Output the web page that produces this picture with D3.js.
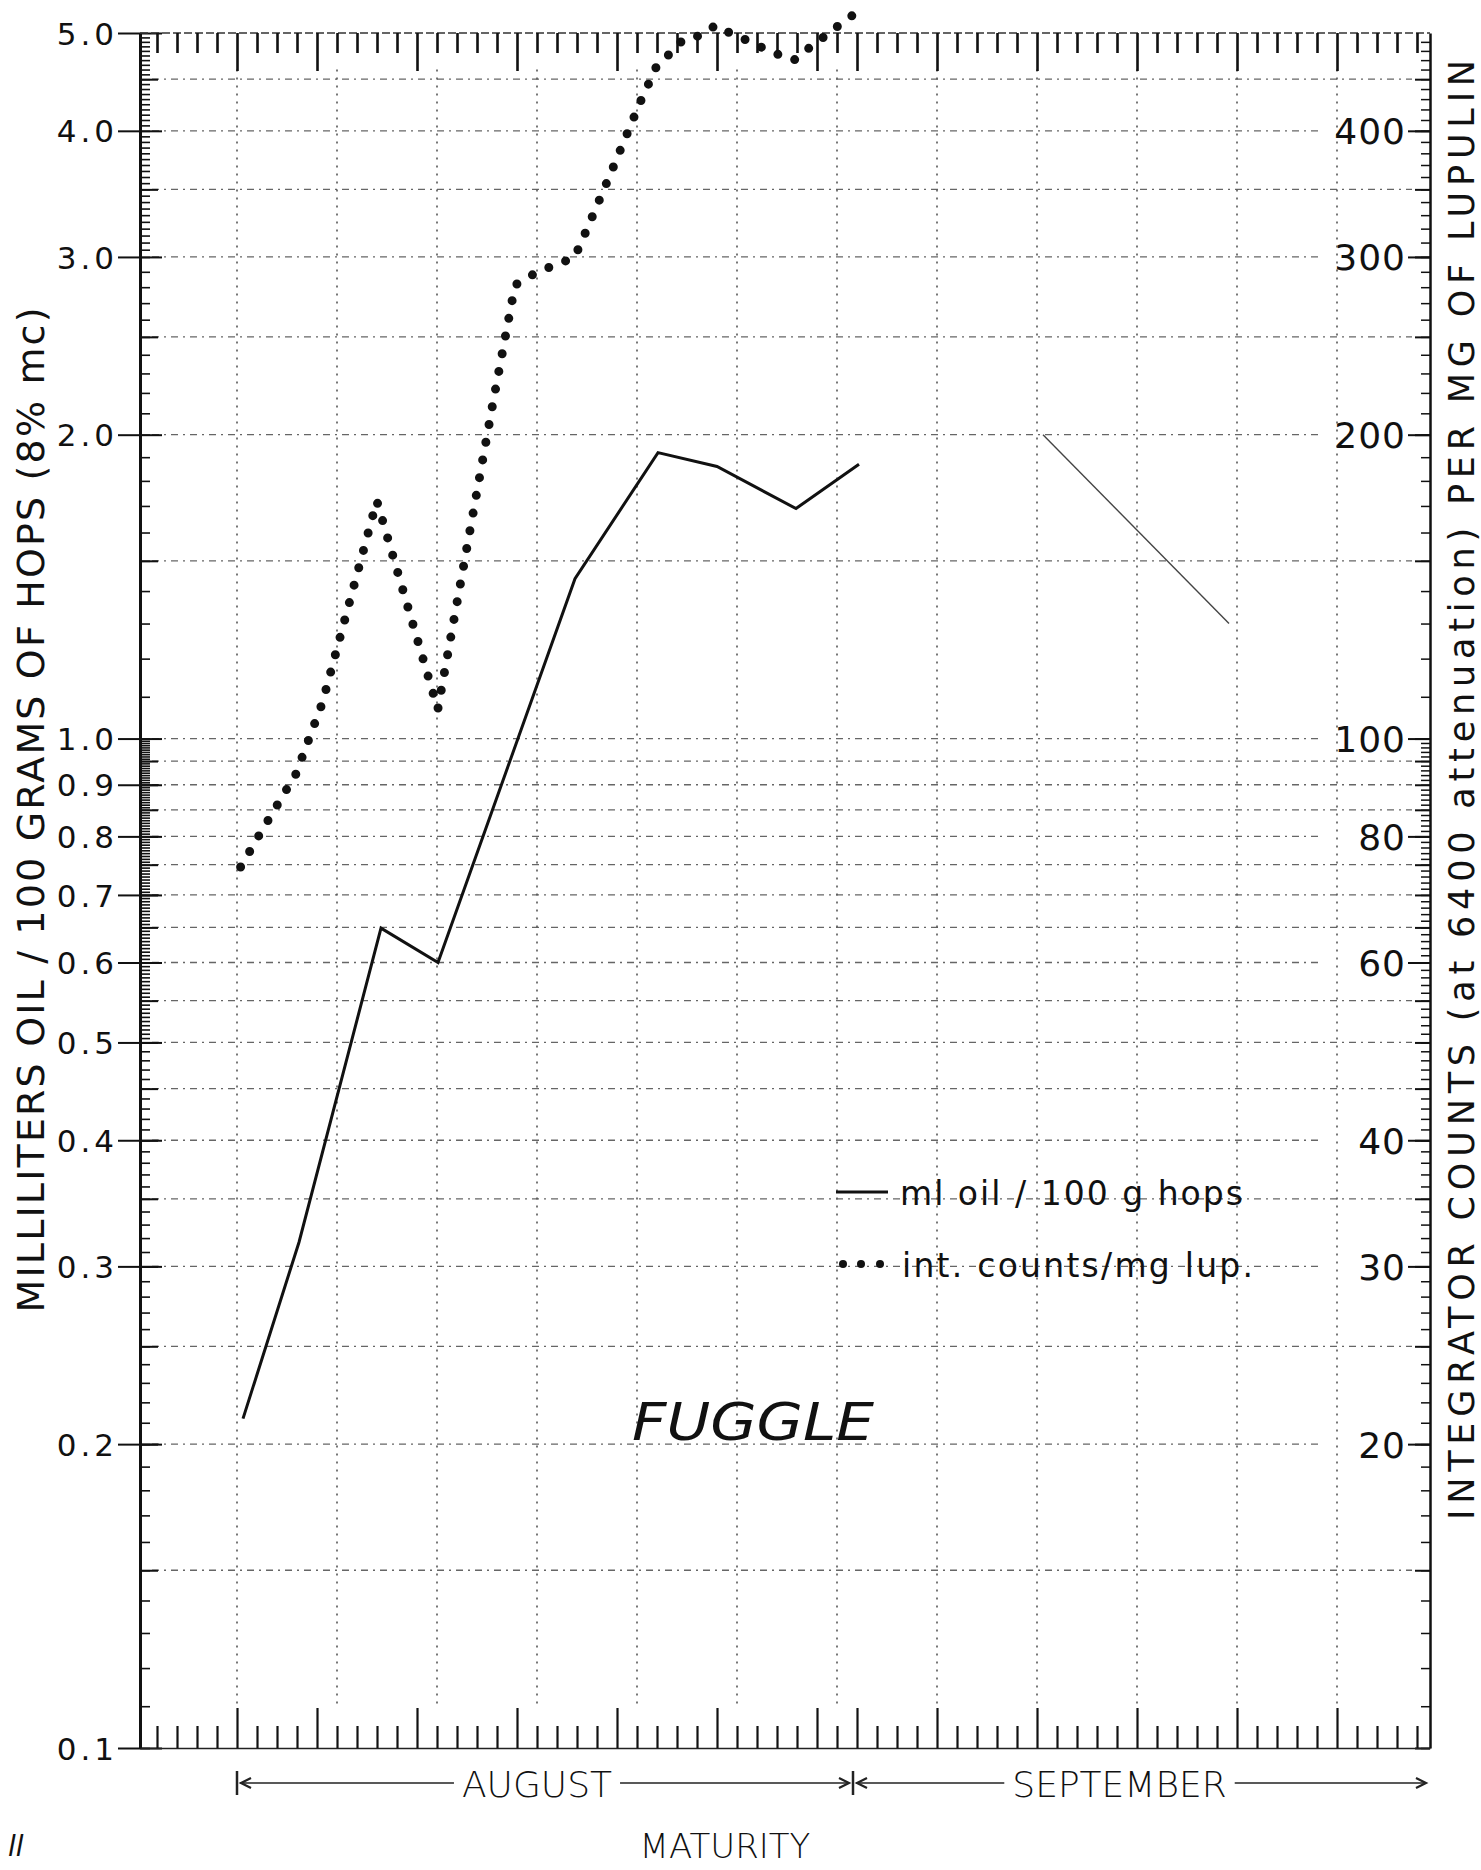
<!DOCTYPE html>
<html>
<head>
<meta charset="utf-8">
<script src="https://cdn.jsdelivr.net/npm/d3@7/dist/d3.min.js"></script>
<style>
body { margin: 0; background: #fff; }
text { font-family: "DejaVu Sans", Lato, sans-serif; fill: #111; }
</style>
</head>
<body>
<script>
// ---- data (day number: Aug 1 = 1, Sep 1 = 32) ----
// ml oil / 100 g hops (left axis)
var oilDays   = [1.3, 4.1, 8.2, 11.05, 17.9, 22.05, 25.0, 28.95, 32.1];
var oilValues = [0.212, 0.317, 0.649, 0.60, 1.44, 1.92, 1.86, 1.69, 1.87];
// faint stroke drawn in September
var faintDays   = [41.3, 50.6];
var faintValues = [2.0, 1.30];
// integrator counts / mg lupulin (right axis)
var countDays   = [1.18, 2.07, 3.94, 5.27, 7.99, 11.04, 13.79, 14.9, 15.57, 16.32, 17.87, 18.27,
                   19.65, 21.15, 21.99, 22.57, 23.29, 24.12, 24.95, 25.65, 26.57, 27.32, 27.95,
                   28.85, 29.65, 30.49, 31.32, 32.1];
var countValues = [74.6, 80.0, 92.2, 108.5, 172, 106.9, 214.7, 281.3, 286.7, 291.5, 299.6, 312,
                   361.7, 426.6, 464, 475.5, 492, 497, 509, 500, 491, 483, 477,
                   470, 484, 498, 513, 526];

// tick labels
var leftLabels  = [0.1, 0.2, 0.3, 0.4, 0.5, 0.6, 0.7, 0.8, 0.9, 1.0, 2.0, 3.0, 4.0, 5.0];
var rightLabels = [20, 30, 40, 60, 80, 100, 200, 300, 400];
var longDayTicks = [1, 5, 10, 15, 20, 25, 30, 32, 36, 41, 46, 51, 56];
var gridDays = [1, 6, 11, 16, 21, 26, 31, 36, 41, 46, 51, 56];
var months = [{name: "AUGUST", start: 1, end: 31.8, shift: -8},
              {name: "SEPTEMBER", start: 31.8, end: 60.65, shift: -22}];

var W = 1481, H = 1870;
var svg = d3.select("body").append("svg")
  .attr("width", W)
  .attr("height", H);

var x  = d3.scaleLinear().domain([-3.85, 60.65]).range([140, 1430]);
var y  = d3.scaleLog().domain([0.1, 5]).range([1748, 33]);
var yR = d3.scaleLog().domain([10, 500]).range([1748, 33]);

var r3 = function(v) { return Math.round(v * 1000) / 1000; };

// ---- grid ----
var hGrid = d3.range(3, 21).map(function(i) { return r3(i * 0.05); })
  .concat([1.5, 2.0, 2.5, 3.0, 3.5, 4.0, 4.5]);
var grid = svg.append("g").attr("class", "grid");
grid.selectAll("line.h").data(hGrid).join("line")
  .attr("class", "h")
  .attr("x1", 152)
  .attr("x2", function(v) { return rightLabels.indexOf(Math.round(v * 100)) >= 0 ? 1322 : 1412; })
  .attr("y1", function(v) { return y(v); })
  .attr("y2", function(v) { return y(v); })
  .attr("stroke", "#666")
  .attr("stroke-width", 1.3)
  .attr("stroke-dasharray", "7,5,2,5");
grid.selectAll("line.v").data(gridDays).join("line")
  .attr("class", "v")
  .attr("x1", function(d) { return x(d); })
  .attr("x2", function(d) { return x(d); })
  .attr("y1", y(4.6))
  .attr("y2", y(0.11))
  .attr("stroke", "#555")
  .attr("stroke-width", 1.6)
  .attr("stroke-dasharray", "2,6");

// ---- left axis ----
function styleAxis(g, size) {
  g.attr("font-family", null).attr("font-size", null);
  g.selectAll("line").attr("stroke", "#111").attr("stroke-width", 2);
  g.selectAll("text").attr("font-size", size);
}
var leftMinor = d3.range(10, 50).map(function(i) { return i / 100; })
  .concat(d3.range(100, 200).map(function(i) { return i / 200; }))
  .concat(d3.range(10, 30).map(function(i) { return i / 10; }))
  .concat(d3.range(60, 100).map(function(i) { return i / 20; }));
var leftMid = d3.range(3, 20).map(function(i) { return r3(i * 0.05); }).concat([1.5, 2.5, 3.5, 4.5]);

svg.append("g").attr("transform", "translate(140,0)")
  .call(d3.axisRight(y).tickValues(leftMinor).tickSize(10).tickFormat("").tickSizeOuter(0))
  .call(styleAxis, 0)
  .call(function(g) { g.select(".domain").remove(); g.selectAll("line").attr("stroke-width", 1.6); });
svg.append("g").attr("transform", "translate(140,0)")
  .call(d3.axisRight(y).tickValues(leftMid).tickSize(18).tickFormat("").tickSizeOuter(0))
  .call(styleAxis, 0)
  .call(function(g) { g.select(".domain").remove(); });
svg.append("g").attr("transform", "translate(140,0)")
  .call(d3.axisRight(y).tickValues(leftLabels).tickSize(22).tickFormat("").tickSizeOuter(0))
  .call(styleAxis, 0)
  .call(function(g) { g.select(".domain").remove(); });
svg.append("g").attr("transform", "translate(140,0)")
  .call(d3.axisLeft(y).tickValues(leftLabels).tickSize(22).tickPadding(0)
        .tickFormat(d3.format(".1f")).tickSizeOuter(0))
  .call(styleAxis, 31)
  .call(function(g) {
    g.select(".domain").attr("stroke", "#111").attr("stroke-width", 3);
    g.selectAll("text").attr("letter-spacing", 4).attr("dy", "0.36em");
  });

// ---- right axis ----
var rightMinor = d3.range(10, 100).concat(d3.range(100, 500, 10));
var rightMid = d3.range(10, 100, 5).concat(d3.range(100, 500, 50));
svg.append("g").attr("transform", "translate(1430,0)")
  .call(d3.axisLeft(yR).tickValues(rightMinor).tickSize(9).tickFormat("").tickSizeOuter(0))
  .call(styleAxis, 0)
  .call(function(g) { g.select(".domain").remove(); g.selectAll("line").attr("stroke-width", 1.5); });
svg.append("g").attr("transform", "translate(1430,0)")
  .call(d3.axisLeft(yR).tickValues(rightMid).tickSize(15).tickFormat("").tickSizeOuter(0))
  .call(styleAxis, 0)
  .call(function(g) { g.select(".domain").remove(); });
svg.append("g").attr("transform", "translate(1430,0)")
  .call(d3.axisLeft(yR).tickValues(rightLabels).tickSize(22).tickPadding(2)
        .tickFormat(d3.format("d")).tickSizeOuter(0))
  .call(styleAxis, 36)
  .call(function(g) {
    g.select(".domain").attr("stroke", "#111").attr("stroke-width", 2.5);
    g.selectAll("text").attr("letter-spacing", 1).attr("dy", "0.36em");
  });

// ---- top and bottom borders with day ticks ----
var dayTicks = d3.range(-3, 61);
svg.append("line").attr("x1", 140).attr("x2", 1430).attr("y1", 33).attr("y2", 33)
  .attr("stroke", "#333").attr("stroke-width", 1.4).attr("stroke-dasharray", "8,3");
svg.append("g").attr("transform", "translate(0,33)")
  .call(d3.axisBottom(x).tickValues(dayTicks).tickFormat("")
        .tickSize(20).tickSizeOuter(0))
  .call(styleAxis, 0)
  .call(function(g) {
    g.select(".domain").remove();
    g.selectAll(".tick line").attr("stroke-width", 2.6)
      .attr("y2", function(d) { return longDayTicks.indexOf(d) >= 0 ? 38 : 20; });
  });
svg.append("g").attr("transform", "translate(0,1748)")
  .call(d3.axisTop(x).tickValues(dayTicks).tickFormat("")
        .tickSize(22).tickSizeOuter(0))
  .call(styleAxis, 0)
  .call(function(g) {
    g.select(".domain").attr("stroke", "#222").attr("stroke-width", 1.5);
    g.selectAll(".tick line").attr("stroke-width", 2.2)
      .attr("y2", function(d) { return longDayTicks.indexOf(d) >= 0 ? -40 : -22; });
  });

// ---- series ----
var oil = oilDays.map(function(d, i) { return [d, oilValues[i]]; });
var faint = faintDays.map(function(d, i) { return [d, faintValues[i]]; });
var counts = countDays.map(function(d, i) { return [d, countValues[i]]; });

var lineL = d3.line().x(function(d) { return x(d[0]); }).y(function(d) { return y(d[1]); });
var lineR = d3.line().x(function(d) { return x(d[0]); }).y(function(d) { return yR(d[1]); });

svg.append("path").datum(counts)
  .attr("d", lineR)
  .attr("fill", "none")
  .attr("stroke", "#111")
  .attr("stroke-width", 9)
  .attr("stroke-linecap", "round")
  .attr("stroke-dasharray", "0,18");
svg.append("path").datum(oil)
  .attr("d", lineL)
  .attr("fill", "none")
  .attr("stroke", "#111")
  .attr("stroke-width", 3);
svg.append("path").datum(faint)
  .attr("d", lineL)
  .attr("fill", "none")
  .attr("stroke", "#444")
  .attr("stroke-width", 1.4);

// ---- legend ----
var legend = svg.append("g");
legend.append("line").attr("x1", 836).attr("x2", 888).attr("y1", 1192).attr("y2", 1192)
  .attr("stroke", "#111").attr("stroke-width", 3);
legend.append("text").attr("x", 900).attr("y", 1205)
  .attr("font-size", 33)
  .attr("textLength", 343).attr("lengthAdjust", "spacing")
  .text("ml oil / 100  g  hops");
legend.selectAll("circle").data([843, 861, 880]).join("circle")
  .attr("cx", function(d) { return d; }).attr("cy", 1264).attr("r", 4).attr("fill", "#111");
legend.append("text").attr("x", 902).attr("y", 1277)
  .attr("font-size", 33)
  .attr("textLength", 351).attr("lengthAdjust", "spacing")
  .text("int. counts/mg  lup.");

// ---- titles ----
svg.append("text")
  .attr("transform", "translate(44,810) rotate(-90)")
  .attr("text-anchor", "middle")
  .attr("font-size", 38)
  .attr("textLength", 1005).attr("lengthAdjust", "spacing")
  .text("MILLILITERS  OIL / 100  GRAMS  OF  HOPS  (8% mc)");
svg.append("text")
  .attr("transform", "translate(1474,790) rotate(-90)")
  .attr("text-anchor", "middle")
  .attr("font-size", 35)
  .attr("textLength", 1460).attr("lengthAdjust", "spacing")
  .text("INTEGRATOR  COUNTS  (at 6400 attenuation)  PER  MG  OF  LUPULIN");

svg.append("text").attr("x", 632).attr("y", 1440)
  .attr("font-size", 52).attr("font-style", "italic").attr("font-weight", 300)
  .attr("textLength", 242).attr("lengthAdjust", "spacingAndGlyphs")
  .text("FUGGLE");

// ---- month arrows ----
var my = 1783;
var arrows = svg.append("g").attr("stroke", "#222").attr("fill", "none").attr("stroke-width", 1.4);
months.forEach(function(m) {
  var a = x(m.start), b = x(m.end), c = (a + b) / 2 + m.shift;
  var t = svg.append("text").attr("x", c).attr("y", my + 14)
    .attr("text-anchor", "middle").attr("font-size", 36).attr("font-weight", 300)
    .text(m.name);
  var half = t.node().getComputedTextLength() / 2;
  arrows.append("line").attr("x1", a + 3).attr("x2", c - half - 8).attr("y1", my).attr("y2", my);
  arrows.append("line").attr("x1", c + half + 8).attr("x2", b - 5).attr("y1", my).attr("y2", my);
  arrows.append("path").attr("d", "M" + (a + 14) + "," + (my - 5) + "L" + (a + 4) + "," + my + "L" + (a + 14) + "," + (my + 5))
    .attr("stroke-width", 2.2);
  arrows.append("path").attr("d", "M" + (b - 14) + "," + (my - 5) + "L" + (b - 4) + "," + my + "L" + (b - 14) + "," + (my + 5))
    .attr("stroke-width", 2.2);
  arrows.append("line").attr("x1", a).attr("x2", a).attr("y1", my - 12).attr("y2", my + 12)
    .attr("stroke-width", 2.5);
});

svg.append("text").attr("x", 725).attr("y", 1858)
  .attr("text-anchor", "middle").attr("font-size", 34).attr("font-weight", 300)
  .text("MATURITY");
svg.append("text").attr("x", 8).attr("y", 1856)
  .attr("font-size", 28).attr("font-style", "italic").attr("font-weight", 300)
  .text("ll");
</script>
</body>
</html>
